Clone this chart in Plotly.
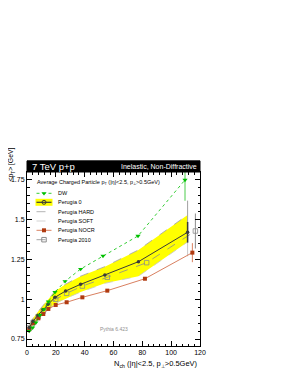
import plotly.graph_objects as go

# ---------------- data ----------------
dw_x = [1.5, 3.9, 6.2, 9.0, 11.8, 14.8, 19.4, 26.4, 37.2, 52.7, 77.0, 109.6]
dw_y = [0.80, 0.821, 0.853, 0.90, 0.937, 0.985, 1.044, 1.113, 1.19, 1.272, 1.398, 1.75]
dw_err = [0, 0, 0, 0, 0, 0, 0, 0, 0, 0, 0, 0.13]

p0_x = [1.6, 4.2, 7.6, 11.1, 14.6, 19.4, 26.8, 37.2, 54.0, 77.3, 111.4]
p0_y = [0.822, 0.862, 0.90, 0.935, 0.968, 1.012, 1.052, 1.094, 1.153, 1.236, 1.421]
p0_err = [0, 0, 0, 0, 0, 0, 0, 0, 0, 0, 0.065]

hard_y = [0.835, 0.88, 0.922, 0.962, 1.0, 1.05, 1.095, 1.145, 1.205, 1.31, 1.53]
soft_y = [0.808, 0.842, 0.876, 0.905, 0.935, 0.972, 1.005, 1.045, 1.10, 1.145, 1.36]
hs_err = [0, 0, 0, 0, 0, 0, 0, 0, 0, 0, 0.09]

nocr_x = [1.6, 4.4, 7.9, 11.3, 14.8, 19.9, 27.5, 38.4, 55.7, 81.8, 114.7]
nocr_y = [0.811, 0.849, 0.88, 0.907, 0.939, 0.964, 0.981, 1.012, 1.054, 1.129, 1.293]
nocr_err = [0, 0, 0, 0, 0, 0, 0, 0, 0, 0, 0.06]

p2010_x = [1.6, 4.3, 7.7, 11.3, 15.0, 19.9, 27.5, 38.4, 55.7, 83.0, 116.8]
p2010_y = [0.82, 0.855, 0.89, 0.925, 0.96, 1.0, 1.037, 1.083, 1.138, 1.23, 1.429]
p2010_err = [0, 0, 0, 0, 0, 0, 0, 0, 0, 0, 0.11]

y_tickvals = [0.75, 1, 1.25, 1.5, 1.75]
y_ticktext = ["0.75", "1", "1.25", "1.5", "1.75"]
x_tickvals = [0, 20, 40, 60, 80, 100, 120]

legend_names = ["DW", "Perugia 0", "Perugia HARD", "Perugia SOFT", "Perugia NOCR", "Perugia 2010"]

FONT = "Liberation Sans, Arial, sans-serif"
GREEN = "#00c000"
DARK = "#3a3a3a"
YELLOW = "#ffff00"
HARDC = "#a0a0a0"
SOFTC = "#c8c8c8"
NOCRL = "#d98060"
NOCRM = "#b03a10"
P10C = "#8c8c8c"

fig = go.Figure()

# yellow band between SOFT and HARD
fig.add_trace(go.Scatter(x=p0_x + p0_x[::-1], y=hard_y + soft_y[::-1], fill="toself",
                         fillcolor=YELLOW, line=dict(width=0), mode="lines",
                         hoverinfo="skip", showlegend=False))

def err(arr, color, thick=1):
    return dict(type="data", array=arr, visible=True, width=0, thickness=thick, color=color)

fig.add_trace(go.Scatter(x=p0_x, y=soft_y, mode="lines", line=dict(color=SOFTC, width=0.8, dash="dash"),
                         error_y=err(hs_err, SOFTC), showlegend=False))
fig.add_trace(go.Scatter(x=p0_x, y=hard_y, mode="lines", line=dict(color=HARDC, width=0.8, dash="dash"),
                         error_y=err(hs_err, HARDC), showlegend=False))
fig.add_trace(go.Scatter(x=p2010_x, y=p2010_y, mode="lines+markers",
                         line=dict(color=P10C, width=0.8, dash="dash"),
                         marker=dict(symbol="square-open", size=4.5, color=P10C, line=dict(width=0.8)),
                         error_y=err(p2010_err, P10C), showlegend=False))
fig.add_trace(go.Scatter(x=nocr_x, y=nocr_y, mode="lines+markers",
                         line=dict(color=NOCRL, width=1),
                         marker=dict(symbol="square", size=4, color=NOCRM),
                         error_y=err(nocr_err, NOCRL), showlegend=False))
fig.add_trace(go.Scatter(x=p0_x, y=p0_y, mode="lines+markers",
                         line=dict(color=DARK, width=1),
                         marker=dict(symbol="circle", size=3.5, color=DARK),
                         error_y=err(p0_err, DARK, 1.5), showlegend=False))
fig.add_trace(go.Scatter(x=dw_x, y=dw_y, mode="lines+markers",
                         line=dict(color=GREEN, width=0.8, dash="dot"),
                         marker=dict(symbol="triangle-down", size=4.5, color=GREEN),
                         error_y=err(dw_err, "#88dd88", 1.5), showlegend=False))

# ---------------- hand-drawn legend (overlay axes in page-pixel units) ----------------
rows = [193.3, 202.3, 211.7, 221.0, 230.3, 239.7]
lx0, lx1, lxm, ltx = 36.5, 51.5, 44.0, 56.0
styles = [
    dict(line=dict(color=GREEN, width=0.8, dash="dot"), marker=dict(symbol="triangle-down", size=4.5, color=GREEN)),
    dict(line=dict(color=DARK, width=1.2), marker=dict(symbol="circle-open", size=4, color=DARK, line=dict(width=1))),
    dict(line=dict(color=HARDC, width=0.8, dash="dash"), marker=None),
    dict(line=dict(color=SOFTC, width=0.8, dash="dash"), marker=None),
    dict(line=dict(color=NOCRL, width=1), marker=dict(symbol="square", size=4, color=NOCRM)),
    dict(line=dict(color=P10C, width=0.8, dash="dash"), marker=dict(symbol="square-open", size=4.5, color=P10C)),
]
fig.add_shape(type="rect", xref="x2", yref="y2", x0=lx0 - 1, x1=lx1 + 1, y0=rows[1] - 3.5, y1=rows[1] + 3.5,
              fillcolor=YELLOW, line=dict(width=0), layer="below")
for yy, st, name in zip(rows, styles, legend_names):
    fig.add_trace(go.Scatter(x=[lx0, lx1], y=[yy, yy], mode="lines", line=st["line"],
                             xaxis="x2", yaxis="y2", showlegend=False, hoverinfo="skip"))
    if st["marker"] is not None:
        fig.add_trace(go.Scatter(x=[lxm], y=[yy], mode="markers", marker=st["marker"],
                                 xaxis="x2", yaxis="y2", showlegend=False, hoverinfo="skip"))
    fig.add_annotation(x=ltx, y=yy, xref="x2", yref="y2", text=name, showarrow=False,
                       xanchor="left", yanchor="middle", font=dict(family=FONT, size=5.5, color="black"))

fig.add_annotation(x=35, y=182.5, xref="x2", yref="y2",
                   text="Average Charged Particle p<sub>T</sub> (|η|<2.5, p<sub>⊥</sub>>0.5GeV)",
                   showarrow=False, xanchor="left", yanchor="middle",
                   font=dict(family=FONT, size=5.5, color="black"))
fig.add_annotation(x=114, y=329, xref="x2", yref="y2", text="Pythia 6.423", showarrow=False,
                   xanchor="center", yanchor="middle", font=dict(family=FONT, size=5, color="#909090"))

# ---------------- header bar ----------------
fig.add_shape(type="rect", xref="paper", yref="paper", x0=0, x1=1, y0=1.0, y1=1.064,
              fillcolor="black", line=dict(color="black", width=1))
fig.add_annotation(x=0.018, y=1.032, xref="paper", yref="paper", text="7 TeV p+p", showarrow=False,
                   xanchor="left", yanchor="middle", font=dict(family=FONT, size=9.5, color="white"))
fig.add_annotation(x=0.992, y=1.032, xref="paper", yref="paper", text="Inelastic, Non-Diffractive",
                   showarrow=False, xanchor="right", yanchor="middle",
                   font=dict(family=FONT, size=7, color="white"))

# axis titles
fig.add_annotation(x=-0.0896, y=1.155, xref="paper", yref="paper", text="<p<sub>T</sub>> [GeV]",
                   textangle=-90, showarrow=False, xanchor="center", yanchor="top",
                   font=dict(family=FONT, size=6.8, color="black"))
fig.add_annotation(x=1.0, y=-0.103, xref="paper", yref="paper",
                   text="N<sub>ch</sub> (|η|<2.5, p<sub>⊥</sub>>0.5GeV)",
                   showarrow=False, xanchor="right", yanchor="middle",
                   font=dict(family=FONT, size=7.5, color="black"))

axis_common = dict(showline=True, linecolor="black", linewidth=1, mirror="ticks", ticks="inside",
                   ticklen=5, tickwidth=0.8, tickcolor="black", showgrid=False, zeroline=False,
                   automargin=False,
                   tickfont=dict(family=FONT, size=7, color="black"))
# the page body adds an 8px offset, so the figure is sized/margined to compensate
fig.update_layout(
    width=281, height=366,
    margin=dict(l=19, r=89, t=164, b=28),
    paper_bgcolor="white", plot_bgcolor="white",
    showlegend=False,
    xaxis=dict(range=[0, 120], tickvals=x_tickvals, ticktext=[str(v) for v in x_tickvals],
               minor=dict(dtick=4, tick0=0, ticklen=2.5, ticks="inside", tickcolor="black", tickwidth=0.8),
               **axis_common),
    yaxis=dict(range=[0.706, 1.80], tickvals=y_tickvals, ticktext=y_ticktext,
               minor=dict(dtick=0.05, tick0=0.75, ticklen=2.5, ticks="inside", tickcolor="black", tickwidth=0.8),
               **axis_common),
    xaxis2=dict(range=[27, 200], overlaying="x", visible=False, fixedrange=True, automargin=False),
    yaxis2=dict(range=[346, 172], overlaying="y", visible=False, fixedrange=True, automargin=False),
)

fig.write_html("out.html")
